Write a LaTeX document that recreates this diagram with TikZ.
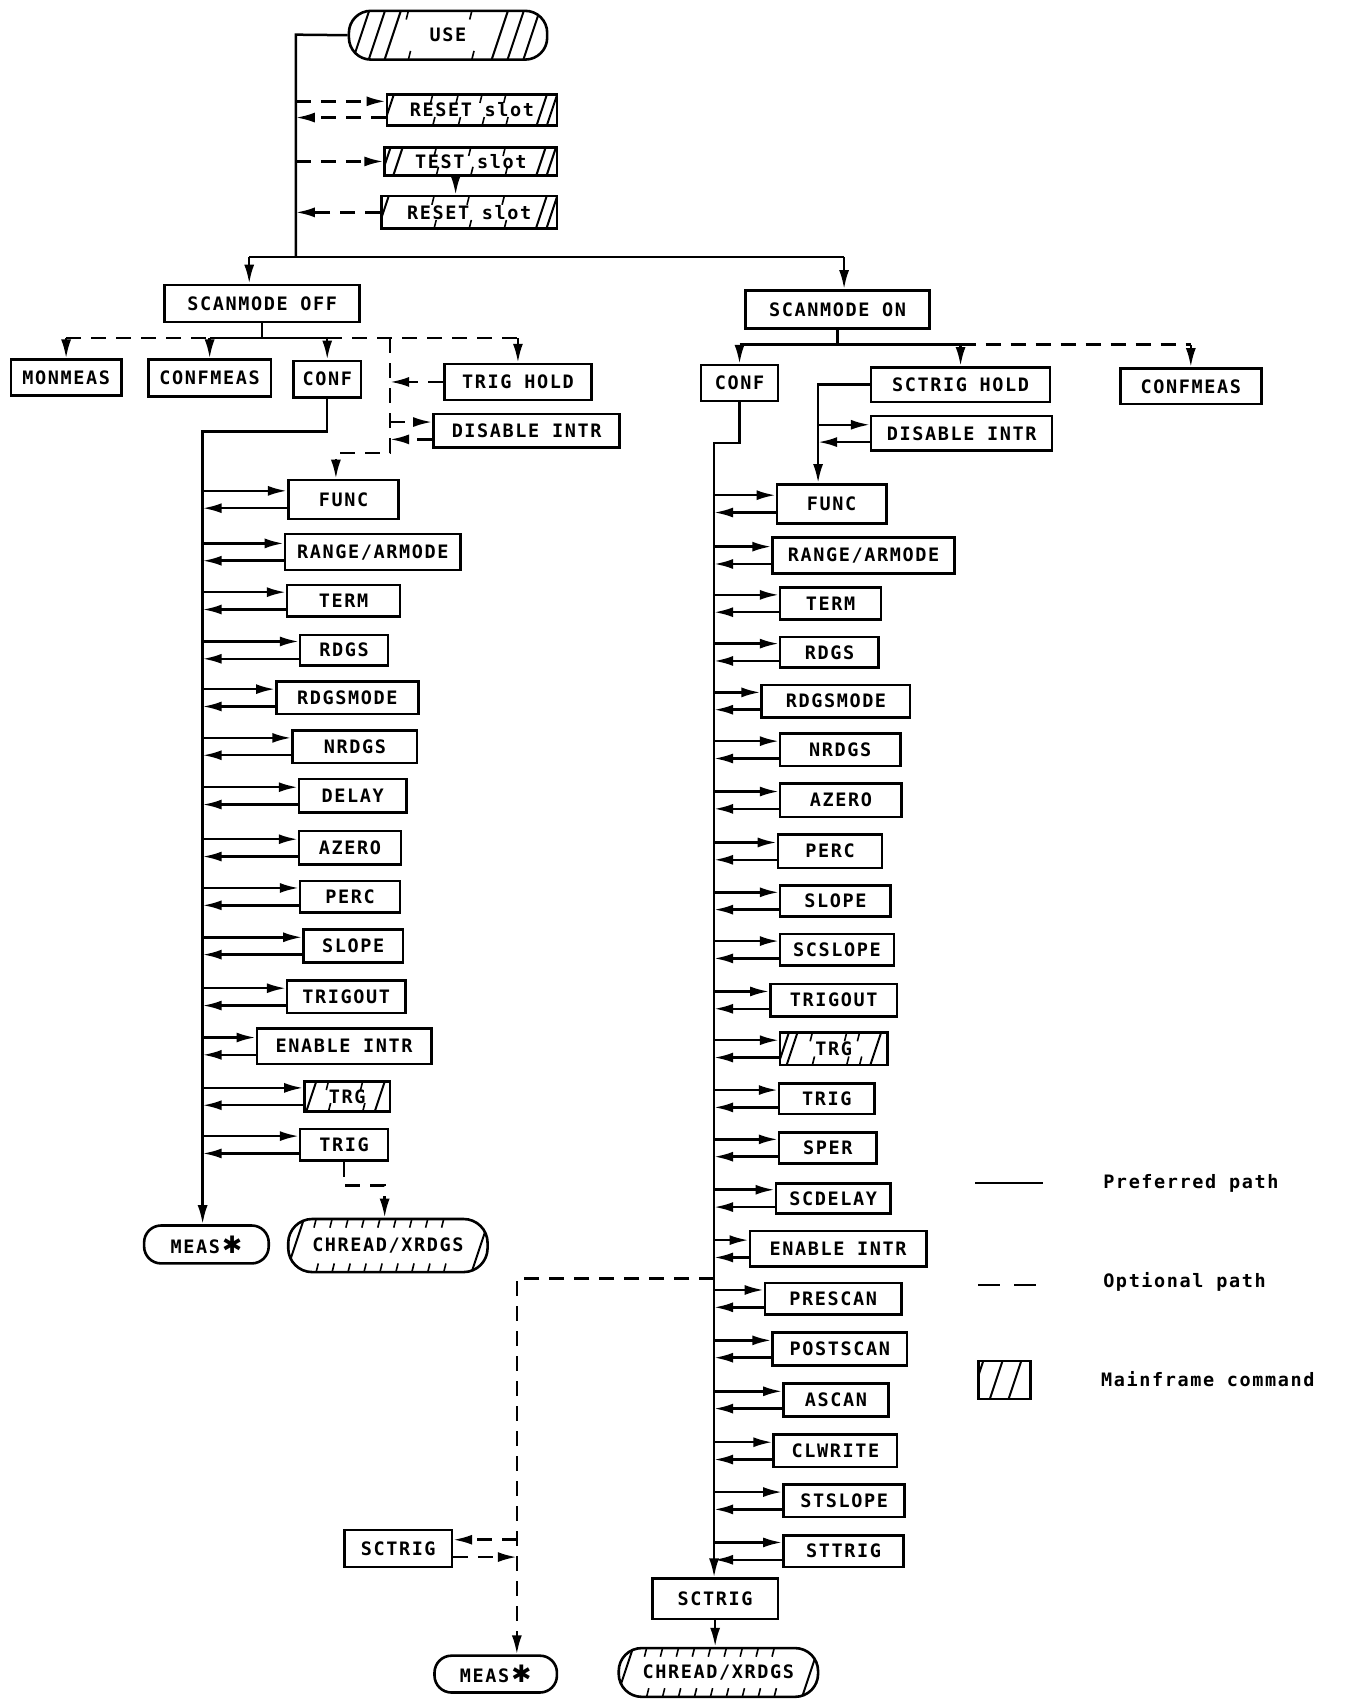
\documentclass[tikz,border=0pt]{standalone}
\usepackage{fontspec}
\newfontfamily\plotfont{DejaVu Sans Mono}[LetterSpace=8.7, UprightFont=* Bold]
\newfontfamily\starfont{DejaVu Sans}
\usetikzlibrary{arrows.meta,calc}
\tikzset{
  box/.style={draw, line width=2.6pt, inner sep=0pt, font=\plotfont\fontsize{18.5}{22}\selectfont},
  term/.style={rounded corners=#1},
  pref/.style={line width=2.5pt},
  opt/.style={line width=2.5pt, dash pattern=on 15pt off 10pt},
  tip/.style={-{Latex[length=19pt,width=10pt]}},
  hatch/.style 2 args={path picture={
    \foreach \f in {#1}{\draw[line width=2pt] ($(path picture bounding box.south west)!\f!(path picture bounding box.south east)$) -- ++(20,-60);}
    \foreach \f in {#2}{
      \draw[line width=1.6pt] ($(path picture bounding box.south west)!\f!(path picture bounding box.south east)$) -- ++(2,-8);
      \draw[line width=1.6pt] ($(path picture bounding box.north west)!\f!(path picture bounding box.north east)$) -- ++(-2,8);}
  }},
  legtext/.style={anchor=west, inner sep=0pt, font=\plotfont\fontsize{18.5}{22}\selectfont},
}
% \mybox[options]{name}{x1}{y1}{x2}{y2}{text}
\newcommand\mybox[7][]{%
  \pgfmathsetmacro\bw{(#5-#3)*1.0838}%
  \pgfmathsetmacro\bh{(#6-#4)*1.0838}%
  \node[box,#1,minimum width=\bw pt,minimum height=\bh pt] (#2) at ({(#3+#5)/2},{(#4+#6)/2}) {#7};}
\newcommand\cmdpair[3][pref]{%
  \draw[#1,tip] ($(#2 |- #3.west)+(0,-8)$) -- ($(#3.west)+(0,-8)$);
  \draw[#1,tip] ($(#3.west)+(0,8)$) -- ($(#2 |- #3.west)+(0,8)$);}
\newcommand\meastext{MEAS\kern2pt{\starfont\fontsize{24}{24}\selectfont ✱}}
\begin{document}
\begin{tikzpicture}[x=1.0838pt,y=-1.0838pt]
\fill[white] (0,0) rectangle (1241,1568);
\path[use as bounding box] (0,0) rectangle (1241,1568);

% ---------- top ----------
\mybox[term=22pt, hatch={0.02,0.10,0.18,0.72,0.80,0.88}{0.30,0.62}]{use}{322}{10}{505}{55}{USE}
\mybox[hatch={-0.02,0.88,0.94}{0.27,0.42,0.56,0.70}]{rs1}{357}{87}{514}{116}{RESET slot}
\mybox[hatch={-0.02,0.05,0.88,0.94}{0.30,0.50,0.70}]{ts}{355}{136}{514}{162}{TEST slot}
\mybox[hatch={-0.02,0.88,0.94}{0.30,0.50,0.70}]{rs2}{352}{181}{514}{211}{RESET slot}
\mybox{so1}{152}{263}{332}{297}{SCANMODE OFF}
\mybox{so2}{688}{268}{858}{303}{SCANMODE ON}

\coordinate (tA) at (273,32);
\coordinate (tB) at (273,237);
\coordinate (B1) at (230,237);
\coordinate (B2) at (779,237);
\draw[pref] (use.west) -- (tA) -- (tB);
\draw[pref] (B1) -- (B2);
\draw[pref,tip] (B1) -- (B1 |- so1.north);
\draw[pref,tip] (B2) -- (B2 |- so2.north);

\draw[opt,tip] ($(tA |- rs1.west)+(0,-8)$) -- ($(rs1.west)+(0,-8)$);
\draw[opt,tip] ($(rs1.west)+(0,7)$) -- ($(tA |- rs1.west)+(0,7)$);
\draw[opt,tip] (tA |- ts.west) -- (ts.west);
\coordinate (tsd) at ($(ts.south)+(-14,0)$);
\draw[pref,tip] (tsd) -- (tsd |- rs2.north);
\draw[opt,tip] (rs2.west) -- (tA |- rs2.west);

% ---------- left branch (SCANMODE OFF) ----------
\mybox{mon}{10}{332}{112}{365}{MONMEAS}
\mybox{cfm1}{137}{332}{250}{366}{CONFMEAS}
\mybox{conf1}{271}{333}{333}{367}{CONF}
\mybox{th1}{410}{336}{546}{369}{TRIG HOLD}
\mybox{di1}{400}{382}{572}{413}{DISABLE INTR}

\coordinate (bus1) at (242,312);
\coordinate (DV1) at (360,312);
\coordinate (DV1b) at (360,418);
\coordinate (DV1c) at (310,418);
\draw[pref] (so1.south) -- (so1.south |- bus1);
\draw[opt] (mon.north |- bus1) -- (cfm1.north |- bus1);
\draw[pref] (cfm1.north |- bus1) -- (conf1.north |- bus1);
\draw[opt] (conf1.north |- bus1) -- (DV1) -- (th1.north |- bus1);
\draw[pref,tip] (mon.north |- bus1) -- (mon.north);
\draw[pref,tip] (cfm1.north |- bus1) -- (cfm1.north);
\draw[pref,tip] (conf1.north |- bus1) -- (conf1.north);
\draw[pref,tip] (th1.north |- bus1) -- (th1.north);
\draw[opt,tip] (th1.west) -- (DV1 |- th1.west);
\cmdpair[opt]{DV1}{di1}

\mybox{f1}{266}{443}{368}{479}{FUNC}
\mybox{ra1}{263}{493}{425}{526}{RANGE/ARMODE}
\mybox{te1}{265}{540}{369}{569}{TERM}
\mybox{rd1}{277}{586}{358}{614}{RDGS}
\mybox{rm1}{255}{629}{386}{659}{RDGSMODE}
\mybox{nr1}{270}{674}{385}{704}{NRDGS}
\mybox{de1}{276}{719}{375}{750}{DELAY}
\mybox{az1}{276}{767}{370}{798}{AZERO}
\mybox{pe1}{277}{813}{369}{842}{PERC}
\mybox{sl1}{280}{858}{372}{888}{SLOPE}
\mybox{to1}{265}{905}{374}{935}{TRIGOUT}
\mybox{en1}{237}{949}{398}{982}{ENABLE INTR}
\mybox[hatch={0.02,0.82}{0.28,0.68}]{tg1}{281}{998}{360}{1026}{TRG}
\mybox{tr1}{277}{1042}{358}{1071}{TRIG}
\mybox[term=17pt]{meas1}{133}{1131}{248}{1166}{\meastext}
\mybox[term=24pt, hatch={-0.01,0.92}{0.14,0.22,...,0.86}]{chr1}{266}{1125}{450}{1174}{CHREAD/XRDGS}

\draw[opt,tip] (DV1) -- (DV1b) -- (DV1c) -- (DV1c |- f1.north);

\coordinate (LT) at (187,398);
\draw[pref,tip] (conf1.south) -- (conf1.south |- LT) -- (LT) -- (LT |- meas1.north);
\foreach \n in {f1,ra1,te1,rd1,rm1,nr1,de1,az1,pe1,sl1,to1,en1,tg1,tr1}{\cmdpair{LT}{\n}}

\coordinate (TC) at (355,1094);
\draw[opt,tip] (tr1.south) -- (tr1.south |- TC) -- (TC) -- (TC |- chr1.north);

% ---------- right branch (SCANMODE ON) ----------
\mybox{conf2}{647}{337}{718}{370}{CONF}
\mybox{sth}{804}{339}{969}{371}{SCTRIG HOLD}
\mybox{cfm2}{1034}{340}{1164}{373}{CONFMEAS}
\mybox{di2}{804}{384}{971}{416}{DISABLE INTR}

\coordinate (bus2) at (773,318);
\draw[pref] (so2.south) -- (so2.south |- bus2);
\draw[pref] (conf2.north |- bus2) -- (sth.north |- bus2);
\draw[opt] (sth.north |- bus2) -- (cfm2.north |- bus2);
\draw[pref,tip] (conf2.north |- bus2) -- (conf2.north);
\draw[pref,tip] (sth.north |- bus2) -- (sth.north);
\draw[pref,tip] (cfm2.north |- bus2) -- (cfm2.north);

\mybox{f2}{717}{447}{818}{483}{FUNC}
\mybox{ra2}{713}{496}{881}{529}{RANGE/ARMODE}
\mybox{te2}{720}{542}{813}{572}{TERM}
\mybox{rd2}{720}{588}{811}{616}{RDGS}
\mybox{rm2}{703}{632}{840}{662}{RDGSMODE}
\mybox{nr2}{720}{677}{831}{707}{NRDGS}
\mybox{az2}{720}{723}{832}{754}{AZERO}
\mybox{pe2}{718}{770}{814}{801}{PERC}
\mybox{sl2}{720}{817}{822}{846}{SLOPE}
\mybox{ss2}{720}{862}{825}{891}{SCSLOPE}
\mybox{to2}{711}{908}{828}{938}{TRIGOUT}
\mybox[hatch={-0.02,0.06,0.84}{0.30,0.62,0.74}]{tg2}{720}{953}{819}{983}{TRG}
\mybox{tr2}{719}{1000}{807}{1028}{TRIG}
\mybox{sp2}{719}{1045}{809}{1074}{SPER}
\mybox{sd2}{716}{1092}{822}{1120}{SCDELAY}
\mybox{en2}{692}{1136}{855}{1169}{ENABLE INTR}
\mybox{ps2}{706}{1184}{832}{1213}{PRESCAN}
\mybox{po2}{713}{1230}{837}{1260}{POSTSCAN}
\mybox{as2}{723}{1277}{820}{1307}{ASCAN}
\mybox{cl2}{714}{1324}{828}{1354}{CLWRITE}
\mybox{st2}{723}{1370}{835}{1400}{STSLOPE}
\mybox{tt2}{723}{1417}{834}{1446}{STTRIG}
\mybox{sct}{602}{1457}{718}{1494}{SCTRIG}
\mybox[term=23pt, hatch={-0.01,0.92}{0.14,0.22,...,0.86}]{chr2}{571}{1521}{755}{1566}{CHREAD/XRDGS}
\mybox[term=17pt]{meas2}{401}{1528}{514}{1562}{\meastext}
\mybox{sct2}{318}{1412}{417}{1446}{SCTRIG}

\coordinate (RV) at (755,354);
\draw[pref,tip] (sth.west) -- (RV |- sth.west) -- (RV |- f2.north);
\cmdpair{RV}{di2}

\coordinate (RT) at (659,409);
\draw[pref,tip] (conf2.south) -- (conf2.south |- RT) -- (RT) -- (RT |- sct.north);
\foreach \n in {f2,ra2,te2,rd2,rm2,nr2,az2,pe2,sl2,ss2,to2,tg2,tr2,sp2,sd2,en2,ps2,po2,as2,cl2,st2,tt2}{\cmdpair{RT}{\n}}
\draw[pref,tip] (sct.south) -- (sct.south |- chr2.north);

\coordinate (DV2) at (477,1180);
\draw[opt,tip] (RT |- DV2) -- (DV2) -- (DV2 |- meas2.north);
\draw[opt,tip] ($(DV2 |- sct2.east)+(0,-8)$) -- ($(sct2.east)+(0,-8)$);
\draw[opt,tip] ($(sct2.east)+(0,8)$) -- ($(DV2 |- sct2.east)+(0,8)$);

% ---------- legend ----------
\coordinate (L1a) at (900,1092);
\coordinate (L1b) at (963,1092);
\coordinate (L2a) at (903,1186);
\coordinate (L2b) at (958,1186);
\draw[pref] (L1a) -- (L1b);
\draw[line width=2.5pt, dash pattern=on 22pt off 14pt] (L2a) -- (L2b);
\mybox[hatch={-0.15,0.22,0.58}{5}]{lg}{903}{1256}{951}{1291}{}
\node[legtext] (lt1) at (1018,1092) {Preferred path};
\node[legtext] (lt2) at (1018,1183) {Optional path};
\node[legtext] (lt3) at (1016,1273) {Mainframe command};
\end{tikzpicture}
\end{document}
